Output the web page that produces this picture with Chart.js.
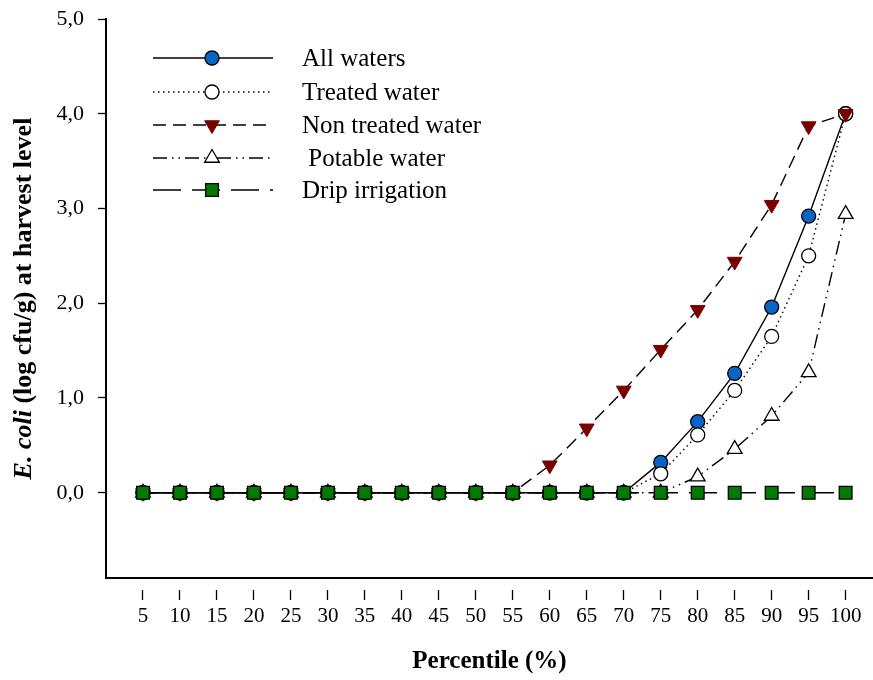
<!DOCTYPE html>
<html>
<head>
<meta charset="utf-8">
<script src="https://cdn.jsdelivr.net/npm/chart.js@4.4.0/dist/chart.umd.min.js"></script>
<style>
html, body { margin: 0; padding: 0; background: #fff; }
</style>
</head>
<body>
<canvas id="wykres" width="873" height="680"></canvas>
<script>
// percentyle na osi x
var percentiles = [5, 10, 15, 20, 25, 30, 35, 40, 45, 50, 55, 60, 65, 70, 75, 80, 85, 90, 95, 100];
// wartosci (log cfu/g)
var allWaters  = [0, 0, 0, 0, 0, 0, 0, 0, 0, 0, 0, 0, 0, 0, 0.32, 0.75, 1.26, 1.96, 2.92, 4.0];
var treated    = [0, 0, 0, 0, 0, 0, 0, 0, 0, 0, 0, 0, 0, 0, 0.20, 0.61, 1.08, 1.65, 2.50, 4.0];
var nonTreated = [0, 0, 0, 0, 0, 0, 0, 0, 0, 0, 0, 0.29, 0.68, 1.08, 1.51, 1.93, 2.44, 3.04, 3.87, 4.0];
var potable    = [0, 0, 0, 0, 0, 0, 0, 0, 0, 0, 0, 0, 0, 0, 0, 0.17, 0.46, 0.81, 1.27, 2.94];
var drip       = [0, 0, 0, 0, 0, 0, 0, 0, 0, 0, 0, 0, 0, 0, 0, 0, 0, 0, 0, 0];
var yTicks = [0, 1, 2, 3, 4, 5];
var seriesNames = ["All waters", "Treated water", "Non treated water", " Potable water", "Drip irrigation"];

var FONT = "'Liberation Serif', 'Times New Roman', serif";

function pary(wart) {
	return percentiles.map(function(p, i) { return {x: p, y: wart[i]}; });
}

var chartdata = {
	datasets: [
		{
			label: seriesNames[0],
			data: pary(allWaters),
			borderColor: '#000', borderWidth: 1.4, borderDash: [],
			pointStyle: 'circle', pointRadius: 7,
			pointBackgroundColor: '#0a64c8', pointBorderColor: '#000', pointBorderWidth: 1.3,
			order: 4
		},
		{
			label: seriesNames[1],
			data: pary(treated),
			borderColor: '#000', borderWidth: 1.4, borderDash: [1.5, 3.5],
			pointStyle: 'circle', pointRadius: 7,
			pointBackgroundColor: '#fff', pointBorderColor: '#000', pointBorderWidth: 1.3,
			order: 3
		},
		{
			label: seriesNames[2],
			data: pary(nonTreated),
			borderColor: '#000', borderWidth: 1.4, borderDash: [13, 7],
			pointStyle: 'triangle', pointRotation: 180, pointRadius: 8.5,
			pointBackgroundColor: '#7a0000', pointBorderColor: '#7a0000', pointBorderWidth: 1,
			order: 2
		},
		{
			label: seriesNames[3],
			data: pary(potable),
			borderColor: '#000', borderWidth: 1.4, borderDash: [14, 5, 1.5, 5, 1.5, 5],
			pointStyle: 'triangle', pointRadius: 8.5,
			pointBackgroundColor: '#fff', pointBorderColor: '#000', pointBorderWidth: 1.3,
			order: 5
		},
		{
			label: seriesNames[4],
			data: pary(drip),
			borderColor: '#000', borderWidth: 1.4, borderDash: [28, 11],
			pointStyle: 'rect', pointRadius: 9,
			pointBackgroundColor: '#007a00', pointBorderColor: '#000', pointBorderWidth: 1.3,
			order: 1
		}
	]
};

// legenda wewnatrz wykresu (linia + znacznik + tekst)
var legendaPlugin = {
	id: 'legendaWewn',
	afterDraw: function(chart) {
		var ctx = chart.ctx;
		var rows = [58, 92, 125, 158, 190];
		chart.data.datasets.forEach(function(ds, i) {
			var y = rows[i];
			ctx.save();
			ctx.strokeStyle = '#000';
			ctx.lineWidth = 1.4;
			ctx.setLineDash(ds.borderDash || []);
			ctx.beginPath();
			ctx.moveTo(153, y);
			ctx.lineTo(273, y);
			ctx.stroke();
			ctx.setLineDash([]);
			ctx.fillStyle = ds.pointBackgroundColor;
			ctx.strokeStyle = ds.pointBorderColor;
			ctx.lineWidth = ds.pointBorderWidth;
			Chart.helpers.drawPoint(ctx, {
				pointStyle: ds.pointStyle,
				radius: ds.pointRadius,
				rotation: ds.pointRotation || 0,
				borderWidth: ds.pointBorderWidth
			}, 212, y);
			ctx.fillStyle = '#000';
			ctx.font = '25px ' + FONT;
			ctx.textBaseline = 'middle';
			ctx.textAlign = 'left';
			ctx.fillText(ds.label, 302, y + 1);
			ctx.restore();
		});
	}
};

// tytul osi y: "E. coli" kursywa, reszta prosto
var tytulYPlugin = {
	id: 'tytulY',
	afterDraw: function(chart) {
		var ctx = chart.ctx;
		var area = chart.chartArea;
		var cz1 = 'E. coli', cz2 = ' (log cfu/g) at harvest level';
		var f1 = 'italic bold 26px ' + FONT, f2 = 'bold 26px ' + FONT;
		ctx.save();
		ctx.font = f1; var w1 = ctx.measureText(cz1).width;
		ctx.font = f2; var w2 = ctx.measureText(cz2).width;
		ctx.translate(24, (area.top + area.bottom) / 2);
		ctx.rotate(-Math.PI / 2);
		ctx.fillStyle = '#000';
		ctx.textBaseline = 'middle';
		ctx.textAlign = 'left';
		var x0 = -(w1 + w2) / 2;
		ctx.font = f1; ctx.fillText(cz1, x0, 0);
		ctx.font = f2; ctx.fillText(cz2, x0 + w1, 0);
		ctx.restore();
	}
};

var ctx = document.getElementById('wykres');

var wykres = new Chart(ctx, {
	type: 'line',
	data: chartdata,
	plugins: [legendaPlugin, tytulYPlugin],
	options: {
		responsive: false,
		animation: false,
		events: [],
		layout: { autoPadding: false, padding: { top: 19, right: 0, left: 0, bottom: 0 } },
		plugins: {
			legend: { display: false },
			tooltip: { enabled: false }
		},
		elements: { line: { tension: 0, fill: false } },
		scales: {
			x: {
				type: 'linear',
				min: 0,
				max: 103.7,
				afterBuildTicks: function(scale) {
					scale.ticks = percentiles.map(function(p) { return {value: p}; });
				},
				afterFit: function(scale) {
					scale.height = 102;
					scale.paddingLeft = 0;
					scale.paddingRight = 0;
				},
				border: { display: true, color: '#000', width: 2 },
				grid: {
					display: true,
					drawOnChartArea: false,
					drawTicks: true,
					tickLength: 22,
					tickColor: '#000',
					tickWidth: 1.3,
					tickBorderDash: [0, 11, 10, 300]
				},
				ticks: {
					autoSkip: false,
					maxRotation: 0,
					padding: 4,
					color: '#000',
					font: { family: FONT, size: 21 },
					callback: function(v) { return String(v); }
				},
				title: {
					display: true,
					text: 'Percentile (%)',
					color: '#000',
					font: { family: FONT, size: 25, weight: 'bold' },
					padding: { top: 0, bottom: 3 }
				}
			},
			y: {
				type: 'linear',
				min: -0.9,
				max: 5,
				afterBuildTicks: function(scale) {
					scale.ticks = yTicks.map(function(v) { return {value: v}; });
				},
				afterFit: function(scale) {
					scale.width = 106;
					scale.paddingTop = 0;
					scale.paddingBottom = 0;
				},
				border: { display: true, color: '#000', width: 2 },
				grid: {
					display: true,
					drawOnChartArea: false,
					drawTicks: true,
					tickLength: 8,
					tickColor: '#000',
					tickWidth: 1.3
				},
				ticks: {
					padding: 14,
					color: '#000',
					font: { family: FONT, size: 22 },
					callback: function(v) { return v.toFixed(1).replace('.', ','); }
				}
			}
		}
	}
});
</script>
</body>
</html>
